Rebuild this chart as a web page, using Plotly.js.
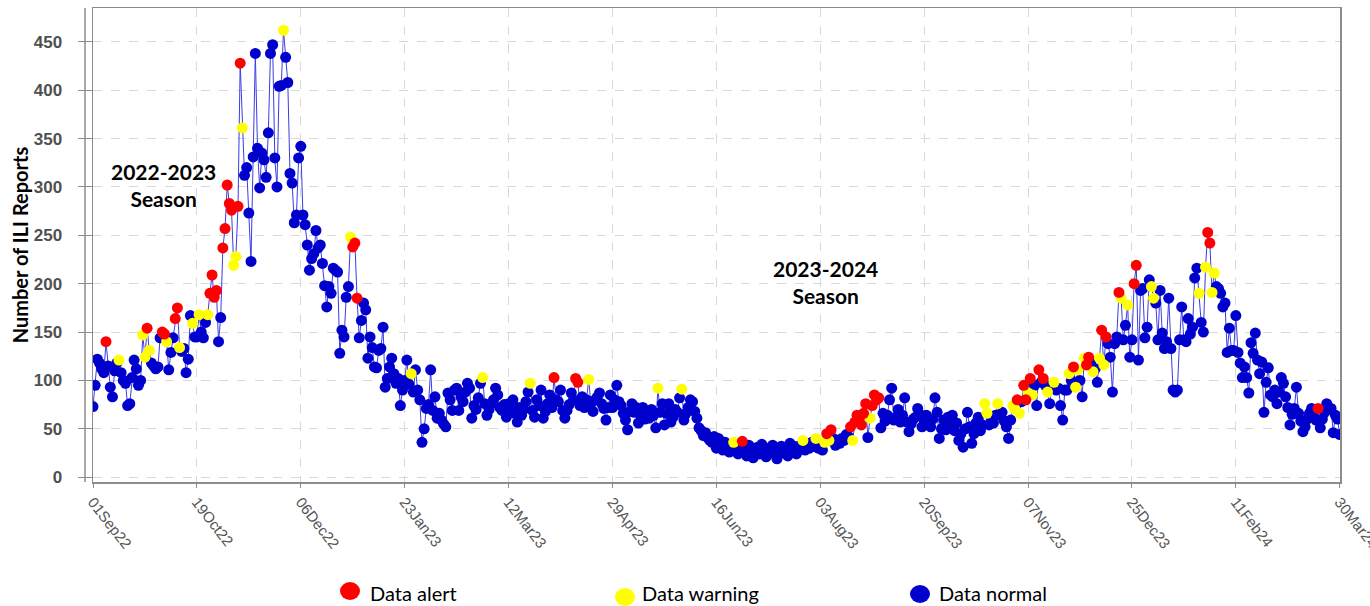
<!DOCTYPE html>
<html>
<head>
<meta charset="utf-8">
<script src="https://cdn.plot.ly/plotly-3.0.1.min.js"></script>
<style>
html,body{margin:0;padding:0;background:#fff;}
#chart{width:1370px;height:606px;}
</style>
</head>
<body>
<div id="chart"></div>
<script>
// ---- categories / tick labels ----
const startDate = '2022-09-01';
const tickLabels = ['01Sep22','19Oct22','06Dec22','23Jan23','12Mar23','29Apr23','16Jun23','03Aug23','20Sep23','07Nov23','25Dec23','11Feb24','30Mar24'];
const tickDates  = ['2022-09-01','2022-10-19','2022-12-06','2023-01-23','2023-03-12','2023-04-29','2023-06-16','2023-08-03','2023-09-20','2023-11-07','2023-12-25','2024-02-11','2024-03-30'];
const yTicks = [0,50,100,150,200,250,300,350,400,450];

// ---- daily ILI report counts, one array per tick interval ----
const v01Sep22 = [73,95,122,118,112,108,140,115,93,83,110,118,121,108,100,97,74,76,103,121,112,95,100,147,124,154,131,118,115,112,114,144,150,148,140,111,129,144,164,175,134,130,133,108,122,167,159,145];
const v19Oct22 = [145,168,150,144,160,168,190,209,186,193,140,165,237,257,302,283,276,219,228,280,428,361,312,320,273,223,331,438,340,299,335,328,310,356,438,447,330,300,404,405,462,434,408,314,304,263,271,330];
const v06Dec22 = [342,271,261,240,214,226,231,255,237,240,221,198,176,197,190,216,214,212,128,152,145,186,197,248,238,242,185,144,162,180,173,123,145,134,114,113,131,133,155,93,102,114,123,107,97,102,74,90];
const v23Jan23 = [100,121,96,107,88,111,90,80,36,50,71,75,111,69,83,61,66,59,55,52,87,80,69,90,92,69,83,78,88,97,92,61,74,70,82,97,103,76,64,70,76,80,92,85,72,69,75,62];
const v12Mar23 = [76,70,80,66,57,72,64,70,78,88,97,69,62,80,74,90,61,68,76,85,72,103,80,78,90,69,61,69,75,87,80,102,98,74,83,72,80,101,76,68,80,83,87,76,71,59,72,85];
const v29Apr23 = [72,80,95,78,74,66,59,49,68,76,67,72,56,64,72,60,67,61,70,64,51,92,67,76,54,66,76,57,62,70,67,82,91,59,66,72,80,78,68,61,51,48,43,46,41,38,36,42];
const v16Jun23 = [30,40,33,28,36,30,26,32,36,29,24,27,37,30,22,33,25,20,28,31,24,34,27,21,30,26,33,24,19,28,32,25,30,22,35,28,32,24,30,33,38,28,34,30,36,32,40,30];
const v03Aug23 = [34,28,36,45,38,49,40,33,36,35,40,38,44,42,52,38,57,64,60,54,66,76,41,61,74,85,80,82,51,66,58,64,80,92,59,62,70,57,64,82,57,47,55,60,62,71,65,52];
const v20Sep23 = [59,64,55,52,60,82,67,40,50,59,49,62,57,64,48,56,38,45,31,50,67,52,35,45,56,62,48,54,76,66,54,60,56,64,76,64,67,58,52,40,59,74,70,80,66,78,95,80];
const v07Nov23 = [87,102,85,95,74,111,98,102,95,88,76,92,98,90,92,74,59,90,90,107,100,114,93,111,100,83,123,116,124,118,109,112,98,123,152,116,145,138,124,88,138,145,191,185,142,157,178,124];
const v25Dec23 = [142,200,219,121,193,195,144,155,204,197,185,180,142,193,149,133,140,185,133,90,88,90,142,176,142,140,164,148,155,206,216,190,160,150,217,253,242,191,211,197,195,190,176,180,129,154,131,131];
const v11Feb24 = [167,129,118,103,114,103,87,139,128,149,121,107,119,67,98,113,85,83,90,76,88,103,97,83,72,54,65,71,93,66,58,47,52,60,66,71,62,59,71,51,60,67,76,70,71,46,64,60,44];

// ---- day indices (from 01Sep22) flagged as alert / warning ----
const alertDays = [6,25,32,33,38,39,54,55,56,57,60,61,62,63,64,67,68,120,121,122,213,223,224,300,339,341,350,352,353,354,355,356,357,360,361,362,363,427,430,431,433,437,439,453,459,460,466,468,474,481,482,515,516,566];
const warningDays = [12,23,24,26,34,40,46,49,53,65,66,69,88,119,147,180,202,229,261,272,296,328,334,338,340,351,359,412,413,418,425,426,428,432,434,441,444,451,454,455,458,462,465,467,475,478,489,490,511,514,517,518];

const legendNames = ['Data alert','Data warning','Data normal'];
const colors = {alert:'#ff0000', warning:'#ffff00', normal:'#0000cd', line:'#3c3ce8'};

// ---- build ----
const values = [].concat(v01Sep22,v19Oct22,v06Dec22,v23Jan23,v12Mar23,v29Apr23,v16Jun23,v03Aug23,v20Sep23,v07Nov23,v25Dec23,v11Feb24);
const t0 = Date.parse(startDate + 'T00:00:00Z');
function dayISO(i){ return new Date(t0 + i*86400000).toISOString().slice(0,10); }
const dates = values.map((_,i)=>dayISO(i));
const aSet = new Set(alertDays), wSet = new Set(warningDays);
const grp = {alert:{x:[],y:[]}, warning:{x:[],y:[]}, normal:{x:[],y:[]}};
values.forEach((v,i)=>{
  const k = aSet.has(i) ? 'alert' : (wSet.has(i) ? 'warning' : 'normal');
  grp[k].x.push(dates[i]); grp[k].y.push(v);
});

const MS = 11;
const traces = [
  {x:dates, y:values, type:'scatter', mode:'lines', line:{color:colors.line, width:1}, showlegend:false, hoverinfo:'skip'},
  {x:grp.normal.x, y:grp.normal.y, type:'scatter', mode:'markers', marker:{color:colors.normal, size:MS}, showlegend:false, name:legendNames[2]},
  {x:grp.warning.x, y:grp.warning.y, type:'scatter', mode:'markers', marker:{color:colors.warning, size:MS}, showlegend:false, name:legendNames[1]},
  {x:grp.alert.x, y:grp.alert.y, type:'scatter', mode:'markers', marker:{color:colors.alert, size:MS}, showlegend:false, name:legendNames[0]}
];

const W=1370, H=606, L=93, R=30, T=8, B=124;
const pw = W-L-R, ph = H-T-B;
const px = x => (x-L)/pw;
const py = y => (H-B-y)/ph;
const txtFont = {family:'Lato, "Open Sans", sans-serif', size:20, color:'#000'};
const boldFont = {family:'Lato, "Open Sans", sans-serif', size:21, color:'#000', weight:'bold'};

// legend drawn as circle markers + real text labels
const legendItems = [
  {name:legendNames[0], color:colors.alert,   cx:350, cy:591, tx:368},
  {name:legendNames[1], color:colors.warning, cx:625, cy:597, tx:640},
  {name:legendNames[2], color:colors.normal,  cx:920, cy:594, tx:937}
];
const shapes = legendItems.map(it=>({
  type:'circle', xref:'paper', yref:'paper', xsizemode:'pixel', ysizemode:'pixel',
  xanchor:px(it.cx), yanchor:py(it.cy), x0:-10, x1:10, y0:-9, y1:9,
  fillcolor:it.color, line:{width:0}
}));
// offset y-axis line (left of the plot frame)
shapes.push({type:'line', xref:'paper', yref:'paper', x0:px(85), x1:px(85), y0:0, y1:1, line:{color:'#8c8c8c', width:1.5}});
const legendAnn = legendItems.map(it=>({
  xref:'paper', yref:'paper', x:px(it.tx), y:py(593), xanchor:'left', yanchor:'middle',
  text:it.name, showarrow:false, font:txtFont
}));

const layout = {
  width:W, height:H,
  margin:{l:L, r:R, t:T, b:B},
  paper_bgcolor:'#fff', plot_bgcolor:'#fff',
  showlegend:false,
  xaxis:{
    type:'date', range:[dayISO(0), dayISO(values.length-1) + ' 03:00'],
    tickvals:tickDates, ticktext:tickLabels, tickangle:52,
    tickfont:{family:'"Liberation Sans", Arial, sans-serif', size:15, color:'#555'},
    ticklabeloverflow:'allow', ticklabelstandoff:0,
    showgrid:true, gridcolor:'#d8d8d8', griddash:'dash', gridwidth:1,
    showline:true, mirror:true, linecolor:'#8c8c8c', linewidth:1.5,
    ticks:'outside', ticklen:4, tickcolor:'#8c8c8c',
    zeroline:false, automargin:false
  },
  yaxis:{
    range:[-5,485], tickvals:yTicks,
    tickfont:{family:'"Liberation Sans", Arial, sans-serif', size:17, color:'#505050', weight:'bold'},
    ticklabelstandoff:12,
    showgrid:true, gridcolor:'#d8d8d8', griddash:'dash', gridwidth:1,
    showline:true, mirror:true, linecolor:'#8c8c8c', linewidth:1.5,
    ticks:'outside', ticklen:14, tickcolor:'#8c8c8c',
    zeroline:false, automargin:false,
    title:{text:'Number of ILI Reports', font:{family:'Lato, "Open Sans", sans-serif', size:20, color:'#000', weight:'bold'}}
  },
  shapes:shapes,
  annotations:[
    {xref:'paper', yref:'paper', x:px(163), y:py(185), xanchor:'center', yanchor:'middle', text:'2022-2023<br>Season', showarrow:false, font:boldFont, align:'center'},
    {xref:'paper', yref:'paper', x:px(825), y:py(282), xanchor:'center', yanchor:'middle', text:'2023-2024<br>Season', showarrow:false, font:boldFont, align:'center'}
  ].concat(legendAnn),
  hovermode:false
};

Plotly.newPlot('chart', traces, layout, {displayModeBar:false, staticPlot:true});
</script>
</body>
</html>
